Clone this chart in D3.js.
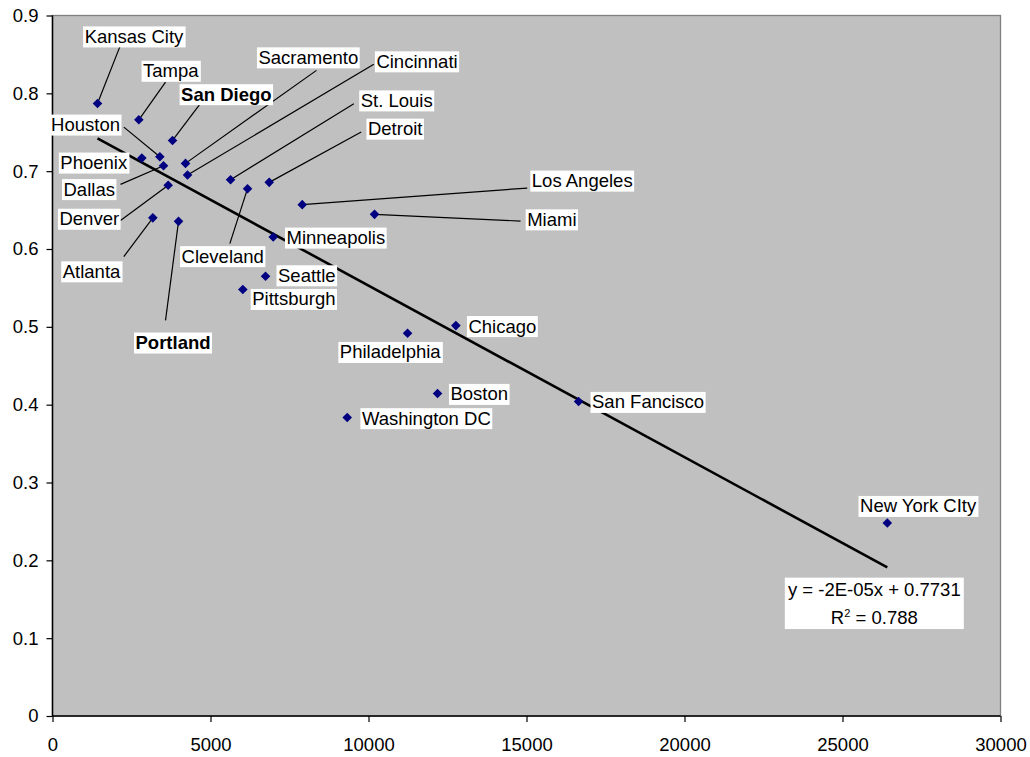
<!DOCTYPE html>
<html><head><meta charset="utf-8">
<script src="https://cdn.jsdelivr.net/npm/d3@7"></script>
<style>
html,body{margin:0;padding:0;background:#fff;}
text{font-family:"Liberation Sans",Arial,sans-serif;}
</style></head>
<body>
<svg id="chart" width="1030" height="757"></svg>
<script>
// ---- data ----
const cities = ["Kansas City","Tampa","San Diego","Houston","Phoenix","Dallas","Sacramento","Cincinnati","Denver","St. Louis","Cleveland","Detroit","Los Angeles","Miami","Minneapolis","Atlanta","Portland","Seattle","Pittsburgh","Philadelphia","Chicago","Boston","Washington DC","San Fancisco","New York CIty"];
const xValues = [1424,2732,3798,3397,2827,3513,4209,4273,3661,5634,6172,6858,7903,10191,6985,3175,3988,6741,6023,11236,12765,12185,9327,16648,26418];
const yValues = [0.787,0.766,0.7395,0.7186,0.7168,0.707,0.710,0.695,0.682,0.689,0.6775,0.6856,0.657,0.6445,0.6154,0.640,0.6355,0.5649,0.548,0.4917,0.5016,0.4143,0.3835,0.404,0.248];
const boldCities = ["San Diego","Portland"];
const xTicks = [0,5000,10000,15000,20000,25000,30000];
const yTicks = [0,0.1,0.2,0.3,0.4,0.5,0.6,0.7,0.8,0.9];
const yTickLabels = ["0","0.1","0.2","0.3","0.4","0.5","0.6","0.7","0.8","0.9"];
const equationText = "y = -2E-05x + 0.7731";
const r2Value = "0.788";

// ---- layout (label offsets from their point, in px; leader = line end offset or null) ----
const labelLayout = [
  [36.5,-67,[22.3,-56.6]],
  [32,-49,[26.7,-37.6]],
  [53.8,-46.2,[28,-37]],
  [-74.3,-32.1,[-36,-29.6]],
  [-48.1,4.5,null],
  [-74.3,23.4,[-43,18.7]],
  [122.8,-106,[131,-93]],
  [229.5,-113.7,[186.3,-110.7]],
  [-78.9,33.6,[-47.7,35.3]],
  [166.2,-79.3,[123.3,-76]],
  [-24.8,67.5,[-17.7,55]],
  [126,-53.7,[92,-50.3]],
  [280,-24,[225,-16.6]],
  [177.3,5,[146,6.7]],
  [62.6,0.6,null],
  [-61.3,53.5,[-29,38.7]],
  [-5.5,121.2,[-13,99]],
  [41.3,-1,null],
  [51,9.5,null],
  [-17.3,18.7,null],
  [46.5,0.5,null],
  [41.7,0.4,null],
  [79.1,0.7,null],
  [69.5,0.4,null],
  [30.8,-17,null]
];

const svg = d3.select("#chart");
const L=52.5, R=1000.5, T=15.5, B=716;
const x = d3.scaleLinear().domain([0,30000]).range([L,R]);
const y = d3.scaleLinear().domain([0,0.9]).range([B,T]);
const FS = 18.5;

// plot area
svg.append("rect").attr("x",L).attr("y",T).attr("width",R-L).attr("height",B-T)
  .attr("fill","#c0c0c0").attr("stroke","#808080").attr("stroke-width",1.3);

// axes
const yAxis = svg.append("g").attr("transform",`translate(${L},0)`)
  .call(d3.axisLeft(y).tickValues(yTicks).tickSize(6).tickPadding(8)
        .tickFormat((d,i)=>yTickLabels[i]));
const xAxis = svg.append("g").attr("transform",`translate(0,${B})`)
  .call(d3.axisBottom(x).tickValues(xTicks).tickSize(6).tickPadding(16)
        .tickFormat(d3.format("d")));
[yAxis,xAxis].forEach(g=>{
  g.select(".domain").attr("stroke","#000").attr("stroke-width",1.5);
  g.selectAll(".tick line").attr("stroke","#000").attr("stroke-width",1.2);
  g.selectAll("text").attr("font-size",FS).attr("fill","#000")
   .attr("font-family","'Liberation Sans',Arial,sans-serif");
});
yAxis.select(".domain").attr("d",`M-6,${B}H0V${T}H-6`).attr("d",`M0,${B}V${T}`);
xAxis.select(".domain").attr("d",`M${L},0H${R}`);

// regression line computed from data
const n = xValues.length;
const mx = d3.mean(xValues), my = d3.mean(yValues);
let sxy=0,sxx=0;
for(let i=0;i<n;i++){sxy+=(xValues[i]-mx)*(yValues[i]-my);sxx+=(xValues[i]-mx)**2;}
const slope = sxy/sxx, intercept = my - slope*mx;
const x0 = d3.min(xValues), x1 = d3.max(xValues);
svg.append("line").attr("x1",x(x0)).attr("y1",y(intercept+slope*x0))
  .attr("x2",x(x1)).attr("y2",y(intercept+slope*x1))
  .attr("stroke","#000").attr("stroke-width",2.6);

// leader lines
const pts = cities.map((c,i)=>({name:c,px:x(xValues[i]),py:y(yValues[i]),lay:labelLayout[i]}));
svg.append("g").selectAll("line").data(pts.filter(p=>p.lay[2]))
  .join("line")
  .attr("x1",p=>p.px).attr("y1",p=>p.py)
  .attr("x2",p=>p.px+p.lay[2][0]).attr("y2",p=>p.py+p.lay[2][1])
  .attr("stroke","#000").attr("stroke-width",1.2);

// markers
svg.append("g").selectAll("path").data(pts).join("path")
  .attr("d",d3.symbol(d3.symbolSquare,46)())
  .attr("transform",p=>`translate(${p.px},${p.py}) rotate(45)`)
  .attr("fill","#000080");

// labels
const lg = svg.append("g");
pts.forEach(p=>{
  const g = lg.append("g").attr("transform",`translate(${p.px+p.lay[0]},${p.py+p.lay[1]})`);
  const rect = g.append("rect").attr("fill","#fff");
  const t = g.append("text").text(p.name).attr("font-size",FS).attr("text-anchor","middle")
    .attr("dy","0.35em").attr("fill","#000")
    .attr("font-weight",boldCities.includes(p.name)?"bold":"normal");
  const bb = t.node().getBBox();
  rect.attr("x",bb.x-1.5).attr("y",bb.y+0.5).attr("width",bb.width+3).attr("height",bb.height);
});

// equation box
const ex = x(x1)-13, ey = y(intercept+slope*x1)+36;
const eg = svg.append("g").attr("transform",`translate(${ex},${ey})`);
eg.append("rect").attr("x",-89.5).attr("y",-25.7).attr("width",179).attr("height",51.4).attr("fill","#fff");
eg.append("text").text(equationText).attr("font-size",FS).attr("text-anchor","middle")
  .attr("y",-14.3).attr("dy","0.35em");
const r2 = eg.append("text").attr("font-size",FS).attr("text-anchor","middle").attr("y",13.7).attr("dy","0.35em");
r2.append("tspan").text("R");
r2.append("tspan").text("2").attr("font-size",11).attr("dy","-0.6em");
r2.append("tspan").text(" = "+r2Value).attr("dy","0.38em");
</script>
</body></html>
